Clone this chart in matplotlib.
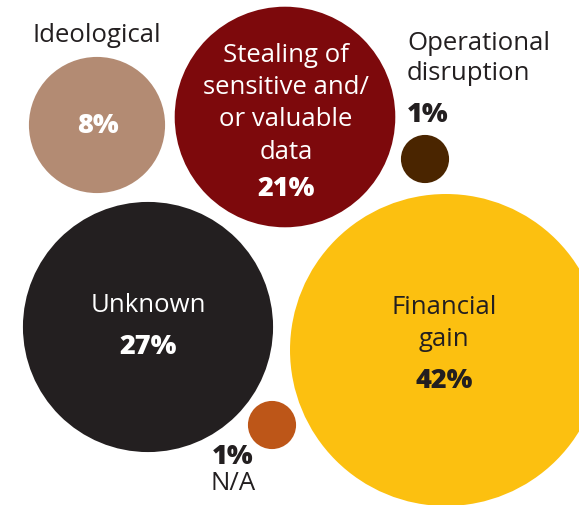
import matplotlib.pyplot as plt
from matplotlib.patches import Circle
import numpy as np

# Share of incidents by motive
motives = ["Ideological", "Stealing of\nsensitive and/\nor valuable\ndata", "Operational\ndisruption",
           "Unknown", "Financial\ngain", "N/A"]
shares = [8, 21, 1, 27, 42, 1]

# Layout of the bubbles (pixel space, y grows downward)
centers = [(97, 125), (285, 117), (425, 159), (148, 327), (446, 350), (272, 425)]
colors = ["#B38B73", "#7D090C", "#4A2500", "#231F20", "#FCC010", "#BD5618"]
scale = 24.07  # px per sqrt(percent)

dark = "#231F20"
plt.rcParams['font.family'] = ['Open Sans', 'DejaVu Sans']

fig = plt.figure(figsize=(5.79, 5.05), dpi=100)
ax = fig.add_axes([0, 0, 1, 1])
ax.set_xlim(0, 579)
ax.set_ylim(505, 0)
ax.set_aspect('equal')
ax.axis('off')

for (cx, cy), v, c in zip(centers, shares, colors):
    ax.add_patch(Circle((cx, cy), scale * np.sqrt(v), color=c, lw=0))

fs_lab, fs_pct = 18.5, 19.5
lab = dict(fontsize=fs_lab, ha='center', va='center')
pct = dict(fontsize=fs_pct, ha='center', va='center', fontweight='heavy')

# Ideological: name above, value inside
ax.text(97, 36, motives[0], color=dark, **lab)
ax.text(98, 126, f"{shares[0]}%", color='white', **pct)

# Stealing of data
for i, line in enumerate(motives[1].split("\n")):
    ax.text(286, 55 + i * 32.5, line, color='white', **lab)
ax.text(286, 189, f"{shares[1]}%", color='white', **pct)

# Operational disruption: text above the small bubble
op1, op2 = motives[2].split("\n")
ax.text(407, 43, op1, color=dark, fontsize=fs_lab, ha='left', va='center')
ax.text(407, 74, op2, color=dark, fontsize=fs_lab, ha='left', va='center')
ax.text(407, 115, f"{shares[2]}%", color=dark, fontsize=fs_pct, fontweight='heavy',
        ha='left', va='center')

# Unknown
ax.text(148, 305, motives[3], color='white', **lab)
ax.text(148, 347, f"{shares[3]}%", color='white', **pct)

# Financial gain
fin1, fin2 = motives[4].split("\n")
ax.text(444, 307, fin1, color=dark, **lab)
ax.text(444, 340, fin2, color=dark, **lab)
ax.text(444, 381, f"{shares[4]}%", color=dark, **pct)

# N/A: text below-left of the small bubble
ax.text(233, 457, f"{shares[5]}%", color=dark, **pct)
ax.text(233, 483, motives[5], color=dark, **lab)

fig.savefig("out.png", dpi=100)
